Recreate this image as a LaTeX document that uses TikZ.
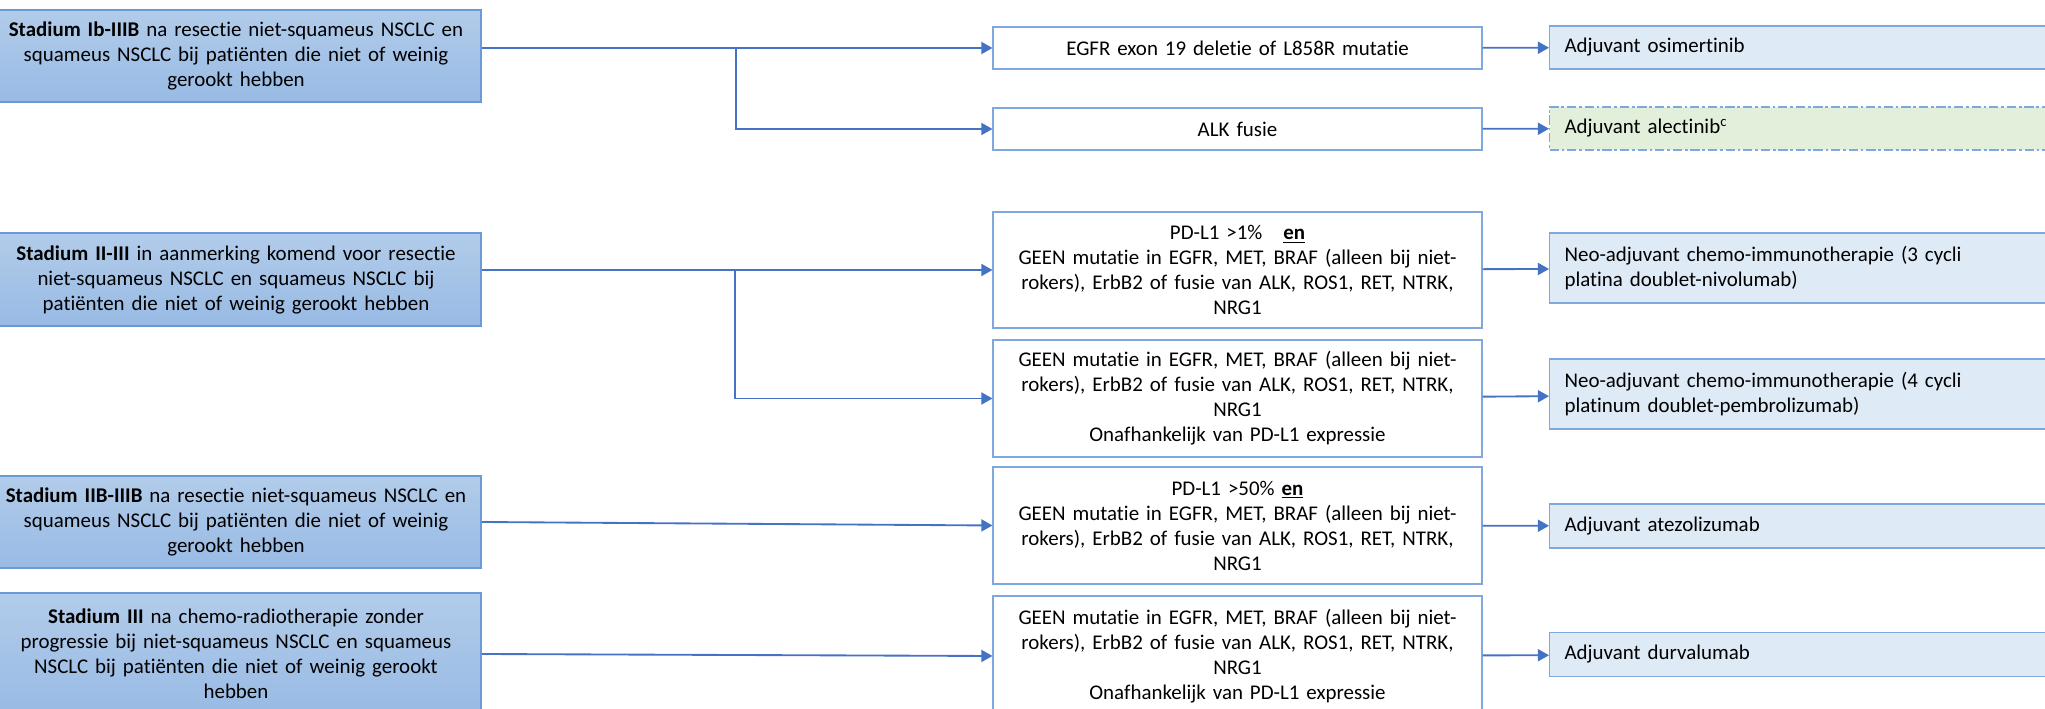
\documentclass[tikz,border=0pt]{standalone}
\usepackage{fontspec}
\setmainfont[Ligatures=NoCommon]{Carlito}
\usetikzlibrary{positioning,arrows.meta}
\definecolor{lbord}{HTML}{6A9BD6}
\definecolor{ltop}{HTML}{B2CCEA}
\definecolor{lbot}{HTML}{98BAE4}
\definecolor{mbord}{HTML}{7FA8DC}
\definecolor{rfill}{HTML}{DEEAF6}
\definecolor{gfill}{HTML}{E2EFDA}
\definecolor{arr}{HTML}{4472C4}
\newcommand{\pw}[1]{#1*0.54pt}

\begin{document}
\begin{tikzpicture}[x=0.54pt,y=-0.54pt,font=\fontsize{11.3}{13.5}\selectfont,
st/.style={draw=lbord,line width=1pt,top color=ltop,bottom color=lbot,align=center,inner xsep=0pt,text width=\pw{490}},
mid/.style={draw=mbord,line width=0.6pt,fill=white,align=center,inner xsep=0pt,text width=\pw{489}},
th/.style={draw=mbord,line width=0.6pt,fill=rfill,align=left,anchor=west,inner xsep=\pw{15},text width=\pw{560}},
a/.style={-{Triangle[length=6pt,width=6.5pt]},draw=arr,line width=1pt}]
\useasboundingbox (0,0) rectangle (2045,709);
\clip (0,0) rectangle (2045,709);
% stadia
\node[st,minimum height=\pw{92}](st1) at (236,56){\textbf{Stadium Ib-IIIB} na resectie niet-squameus NSCLC en\\squameus NSCLC bij patiënten die niet of weinig\\gerookt hebben};
\node[st,minimum height=\pw{93}](st2) at (236,279.5){\textbf{Stadium II-III} in aanmerking komend voor resectie\\niet-squameus NSCLC en squameus NSCLC bij\\patiënten die niet of weinig gerookt hebben};
\node[st,minimum height=\pw{92}](st3) at (236,522){\textbf{Stadium IIB-IIIB} na resectie niet-squameus NSCLC en\\squameus NSCLC bij patiënten die niet of weinig\\gerookt hebben};
\node[st,minimum height=\pw{122}](st4) at (236,654){\textbf{Stadium III} na chemo-radiotherapie zonder\\progressie bij niet-squameus NSCLC en squameus\\NSCLC bij patiënten die niet of weinig gerookt\\hebben};
% criteria
\node[mid,minimum height=\pw{42}](egfr) at (1237.5,48){EGFR exon 19 deletie of L858R mutatie};
\node[mid,minimum height=\pw{42}](alk) at (1237.5,129){ALK fusie};
\node[mid,minimum height=\pw{116}](pd1) at (1237.5,270){PD-L1 >1\%\ \ \ \underline{\textbf{en}}\\GEEN mutatie in EGFR, MET, BRAF (alleen bij niet-\\rokers), ErbB2 of fusie van ALK, ROS1, RET, NTRK,\\NRG1};
\node[mid,minimum height=\pw{117}](geen1) at (1237.5,398.5){GEEN mutatie in EGFR, MET, BRAF (alleen bij niet-\\rokers), ErbB2 of fusie van ALK, ROS1, RET, NTRK,\\NRG1\\Onafhankelijk van PD-L1 expressie};
\node[mid,minimum height=\pw{117}](pd50) at (1237.5,525.5){PD-L1 >50\% \underline{\textbf{en}}\\GEEN mutatie in EGFR, MET, BRAF (alleen bij niet-\\rokers), ErbB2 of fusie van ALK, ROS1, RET, NTRK,\\NRG1};
\node[mid,minimum height=\pw{120}](geen2) at (1237.5,656){GEEN mutatie in EGFR, MET, BRAF (alleen bij niet-\\rokers), ErbB2 of fusie van ALK, ROS1, RET, NTRK,\\NRG1\\Onafhankelijk van PD-L1 expressie};
% therapie
\node[th,minimum height=\pw{43}](osi) at (1549,47.5){Adjuvant osimertinib};
\node[th,minimum height=\pw{43},fill=gfill,dash pattern=on 5pt off 1.5pt on 1.5pt off 1.5pt](alec) at (1549,128.5){Adjuvant alectinib\textsuperscript{c}};
\node[th,minimum height=\pw{70}](nivo) at (1549,268){Neo-adjuvant chemo-immunotherapie (3 cycli\\platina doublet-nivolumab)};
\node[th,minimum height=\pw{70}](pembro) at (1549,394){Neo-adjuvant chemo-immunotherapie (4 cycli\\platinum doublet-pembrolizumab)};
\node[th,minimum height=\pw{44}](atezo) at (1549,526){Adjuvant atezolizumab};
\node[th,minimum height=\pw{44}](durva) at (1549,654.5){Adjuvant durvalumab};
\coordinate (j1) at (736,48);\coordinate (j2) at (735,270);
\draw[a](st1.east |- egfr)--(egfr);\draw[a](j1)|-(alk);
\draw[a](st2.east |- pd1)--(pd1);\draw[a](j2)|-(geen1);
\draw[a](st3.east)--(pd50.west);\draw[a](st4.east)--(geen2.west);
\draw[a](egfr)--(osi);\draw[a](alk)--(alec);\draw[a](pd1)--(nivo);\draw[a](geen1)--(pembro);\draw[a](pd50)--(atezo);\draw[a](geen2)--(durva);
\end{tikzpicture}
\end{document}
